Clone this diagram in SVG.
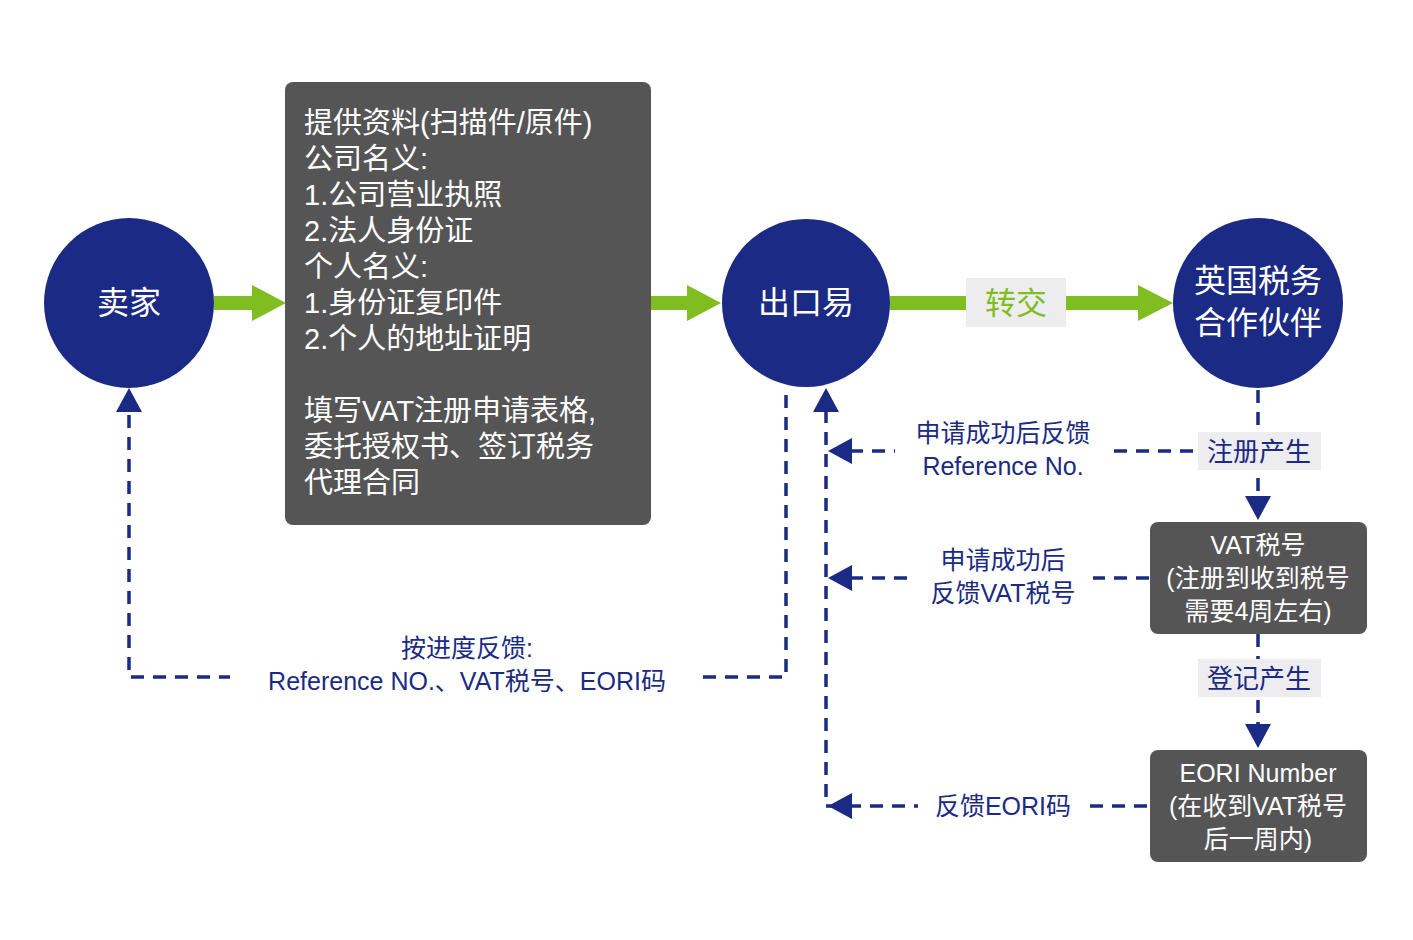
<svg xmlns="http://www.w3.org/2000/svg" width="1413" height="940" viewBox="0 0 1413 940">
<style>
text{font-family:"Liberation Sans","Noto Sans CJK SC",sans-serif}
.c{fill:#1b2a84}
.w{fill:#fff}
.b{fill:#565556}
.d{stroke:#1b2a84;stroke-width:3.5;stroke-dasharray:13,9;fill:none}
.g{fill:#80bd21}
.bl{fill:#1b2a84}
.lb{fill:#ededf0}
</style>
<rect width="1413" height="940" fill="#fff"/>
<g id="connectors">
<rect class="g" x="214" y="296" width="42" height="14"/><polygon class="g" points="252,285 286,303 252,321"/>
<rect class="g" x="651" y="296" width="40" height="14"/><polygon class="g" points="687,285 721,303 687,321"/>
<rect class="g" x="890" y="296" width="252" height="14"/><polygon class="g" points="1138,285 1173,303 1138,321"/>
<rect class="lb" x="966" y="278" width="100" height="49"/>
<text x="1016" y="314" font-size="31" fill="#80bd21" text-anchor="middle">转交</text>
<polyline class="d" points="786,395 786,677 129,677 129,410"/>
<polygon class="bl" points="116,412 129,388 142,412"/>
<polyline class="d" points="826,410 826,806 1148,806"/>
<polygon class="bl" points="813,412 826,388 839,412"/>
<line class="d" x1="850" y1="451" x2="1198" y2="451"/>
<polygon class="bl" points="852,438 828,451 852,464"/>
<line class="d" x1="850" y1="578" x2="1150" y2="578"/>
<polygon class="bl" points="852,565 828,578 852,591"/>
<polygon class="bl" points="852,793 828,806 852,819"/>
<line class="d" x1="1258" y1="390" x2="1258" y2="498"/>
<polygon class="bl" points="1245,496 1258,520 1271,496"/>
<line class="d" x1="1258" y1="634" x2="1258" y2="726"/>
<polygon class="bl" points="1245,724 1258,748 1271,724"/>
<rect fill="#fff" x="230" y="632" width="470" height="64"/>
<text x="467" y="657" font-size="25" class="c" text-anchor="middle">按进度反馈:</text>
<text x="467" y="690" font-size="25" class="c" text-anchor="middle">Reference NO.、VAT税号、EORI码</text>
<rect fill="#fff" x="895" y="415" width="215" height="70"/>
<text x="1003" y="442" font-size="25" class="c" text-anchor="middle">申请成功后反馈</text>
<text x="1003" y="475" font-size="25" class="c" text-anchor="middle">Reference  No.</text>
<rect fill="#fff" x="908" y="542" width="185" height="70"/>
<text x="1003" y="569" font-size="25" class="c" text-anchor="middle">申请成功后</text>
<text x="1003" y="602" font-size="25" class="c" text-anchor="middle">反馈VAT税号</text>
<rect fill="#fff" x="918" y="788" width="170" height="36"/>
<text x="1003" y="815" font-size="25" class="c" text-anchor="middle">反馈EORI码</text>
<rect class="lb" x="1198" y="432" width="123" height="38"/>
<text x="1259" y="461" font-size="26" class="c" text-anchor="middle">注册产生</text>
<rect class="lb" x="1198" y="659" width="123" height="38"/>
<text x="1259" y="688" font-size="26" class="c" text-anchor="middle">登记产生</text>
</g>
<g id="seller"><circle class="c" cx="129" cy="303" r="85"/><text x="129" y="314" font-size="32" class="w" text-anchor="middle">卖家</text></g>
<g id="docs"><rect class="b" x="285" y="82" width="366" height="443" rx="8"/>
<text font-size="29" class="w"><tspan x="304" y="133">提供资料(扫描件/原件)</tspan><tspan x="304" y="169">公司名义:</tspan><tspan x="304" y="205">1.公司营业执照</tspan><tspan x="304" y="241">2.法人身份证</tspan><tspan x="304" y="277">个人名义:</tspan><tspan x="304" y="313">1.身份证复印件</tspan><tspan x="304" y="349">2.个人的地址证明</tspan><tspan x="304" y="421">填写VAT注册申请表格,</tspan><tspan x="304" y="457">委托授权书、签订税务</tspan><tspan x="304" y="493">代理合同</tspan></text></g>
<g id="cky"><circle class="c" cx="806" cy="303" r="84"/><text x="806" y="314" font-size="32" class="w" text-anchor="middle">出口易</text></g>
<g id="uk"><circle class="c" cx="1258" cy="303" r="85"/><text x="1258" y="292" font-size="32" class="w" text-anchor="middle">英国税务</text><text x="1258" y="334" font-size="32" class="w" text-anchor="middle">合作伙伴</text></g>
<g id="vat"><rect class="b" x="1150" y="522" width="217" height="112" rx="8"/>
<text font-size="25" class="w" text-anchor="middle"><tspan x="1258" y="554">VAT税号</tspan><tspan x="1258" y="587">(注册到收到税号</tspan><tspan x="1258" y="620">需要4周左右)</tspan></text></g>
<g id="eori"><rect class="b" x="1150" y="750" width="217" height="112" rx="8"/>
<text font-size="25" class="w" text-anchor="middle"><tspan x="1258" y="782">EORI  Number</tspan><tspan x="1258" y="815">(在收到VAT税号</tspan><tspan x="1258" y="848">后一周内)</tspan></text></g>
</svg>
